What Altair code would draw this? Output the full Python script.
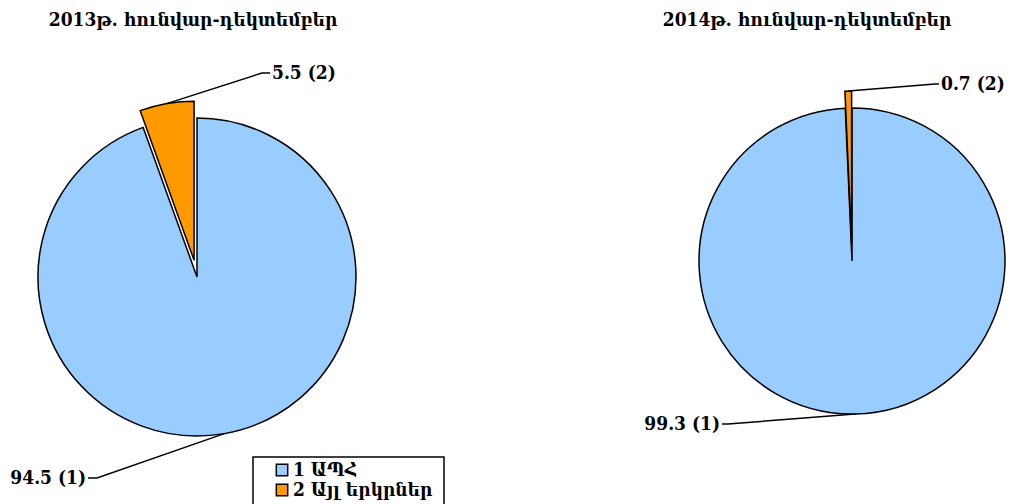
import math
import altair as alt
import pandas as pd

# ---- data ----
years = ["2013", "2014"]
titles = ["2013թ. հունվար-դեկտեմբեր", "2014թ. հունվար-դեկտեմբեր"]
cat_codes = [1, 2]
categories = ["1 ԱՊՀ", "2 Այլ երկրներ"]
share_2013 = [94.5, 5.5]
share_2014 = [99.3, 0.7]
colors = ["#99CCFF", "#FF9900"]

# ---- layout (chart pixel space) ----
W, H = 998, 496
FONT = "DejaVu Serif Condensed, DejaVu Serif"
FS = 19
centers = {"2013": (189, 269), "2014": (844, 253)}
radii = {"2013": 159, "2014": 153}
EXPLODE = 17
# label anchors: (year, code) -> (elbow_x, elbow_y, end_x, align)
anchors = {
    ("2013", 2): (254, 65, 262, "left"),
    ("2013", 1): (89, 470, 80, "right"),
    ("2014", 2): (927, 76, 931, "left"),
    ("2014", 1): (720, 416, 714, "right"),
}

rows, lines, labels = [], [], []
for yr, shares in zip(years, [share_2013, share_2014]):
    cx, cy = centers[yr]
    r = radii[yr]
    cum = 0.0
    for code, cat, v in zip(cat_codes, categories, shares):
        t0, t1 = cum, cum + v
        cum = t1
        a = 2 * math.pi * (t0 + t1) / 2 / 100
        e = EXPLODE if code == 2 else 0
        px, py = cx + e * math.sin(a), cy - e * math.cos(a)
        rows.append(dict(year=yr, code=code, cat=cat, value=v, t0=t0, t1=t1,
                         px=px, py=py, r=r))
        ex, ey = px + r * math.sin(a), py - r * math.cos(a)
        bx, by, endx, align = anchors[(yr, code)]
        sid = f"{yr}-{code}"
        for i, (lx, ly) in enumerate([(ex, ey), (bx, by), (endx, by)]):
            lines.append(dict(sid=sid, i=i, lx=lx, ly=ly))
        labels.append(dict(txt=f"{v} ({code})", tx=endx + (2 if align == "left" else -2),
                           ty=by, align=align))

pie_df = pd.DataFrame(rows)
line_df = pd.DataFrame(lines)
lab_df = pd.DataFrame(labels)
title_df = pd.DataFrame(dict(title=titles, tx=[185, 799], ty=[18, 18]))
leg_df = pd.DataFrame(dict(cat=categories, code=cat_codes,
                           sx=[274, 274], sy=[462, 482], tx=[285, 285]))

color_scale = alt.Scale(domain=categories, range=colors)
theta_scale = alt.Scale(domain=[0, 100], range=[0, 2 * math.pi])

pies = alt.Chart(pie_df).mark_arc(stroke="black", strokeWidth=1.5).encode(
    theta=alt.Theta("t0:Q", scale=theta_scale),
    theta2="t1:Q",
    radius=alt.Radius("r:Q", scale=None),
    x=alt.X("px:Q", scale=None, axis=None),
    y=alt.Y("py:Q", scale=None, axis=None),
    color=alt.Color("cat:N", scale=color_scale, legend=None),
)

leaders = alt.Chart(line_df).mark_line(color="black", strokeWidth=1.5).encode(
    x=alt.X("lx:Q", scale=None, axis=None),
    y=alt.Y("ly:Q", scale=None, axis=None),
    detail="sid:N",
    order="i:Q",
)

def txt_layer(df, align, field, xf, yf, filt=None, baseline="middle"):
    c = alt.Chart(df)
    if filt:
        c = c.transform_filter(filt)
    return c.mark_text(
        align=align, baseline=baseline, font=FONT, fontWeight="bold", fontSize=FS, color="black"
    ).encode(x=alt.X(xf, scale=None, axis=None), y=alt.Y(yf, scale=None, axis=None), text=field)

lab_left = txt_layer(lab_df, "left", "txt:N", "tx:Q", "ty:Q", "datum.align == 'left'")
lab_right = txt_layer(lab_df, "right", "txt:N", "tx:Q", "ty:Q", "datum.align == 'right'")
title_layer = txt_layer(title_df, "center", "title:N", "tx:Q", "ty:Q", baseline="alphabetic")

legend_box = alt.Chart(pd.DataFrame({"a": [0]})).mark_rect(
    fill="white", stroke="black", strokeWidth=1.5
).encode(x=alt.value(245), x2=alt.value(436), y=alt.value(449), y2=alt.value(520))

legend_sym = alt.Chart(leg_df).mark_square(size=130, stroke="black", strokeWidth=1.5, opacity=1).encode(
    x=alt.X("sx:Q", scale=None, axis=None),
    y=alt.Y("sy:Q", scale=None, axis=None),
    color=alt.Color("cat:N", scale=color_scale, legend=None),
)

legend_txt = txt_layer(leg_df, "left", "cat:N", "tx:Q", "sy:Q")

chart = alt.layer(
    pies, leaders, lab_left, lab_right, title_layer, legend_box, legend_sym, legend_txt
).properties(
    width=W, height=H, padding=0, autosize=alt.AutoSizeParams(type="none")
).configure_view(strokeWidth=0)

chart.save("out.html", embed_options={"renderer": "svg", "actions": False})
